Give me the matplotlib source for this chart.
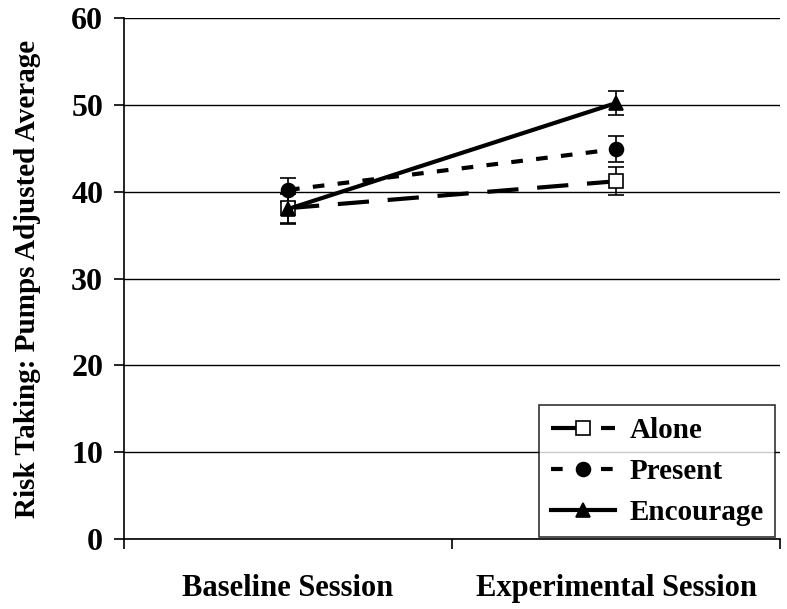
import matplotlib.pyplot as plt

sessions = ["Baseline Session", "Experimental Session"]
groups = ["Alone", "Present", "Encourage"]
alone = [38.1, 41.2]
present = [40.2, 44.9]
encourage = [38.0, 50.2]
alone_err = [1.7, 1.6]
present_err = [1.4, 1.5]
encourage_err = [1.7, 1.4]

plt.rcParams["font.family"] = "Liberation Serif"
plt.rcParams["font.weight"] = "bold"

fig = plt.figure(figsize=(7.87, 6.09), dpi=100)
ax = fig.add_axes([124 / 787, 70 / 609, 656 / 787, 521 / 609])

x = [1, 2]
styles = [
    (alone, alone_err, "s", "white", (0, (7.5, 4.5)), "Alone"),
    (present, present_err, "o", "black", (0, (2.8, 3.2)), "Present"),
    (encourage, encourage_err, "^", "black", "-", "Encourage"),
]
handles = []
for vals, err, mk, fc, ls, lab in styles:
    ax.errorbar(x, vals, yerr=err, color="black", fmt="none",
                elinewidth=1.2, capsize=6, capthick=1.2, zorder=3)
    h, = ax.plot(x, vals, color="black", marker=mk, markersize=10,
                 markerfacecolor=fc, markeredgecolor="black", markeredgewidth=1.2,
                 linestyle=ls, linewidth=3, label=lab, zorder=4)
    handles.append(h)

ax.set_xlim(0.5, 2.5)
ax.set_ylim(0, 60)
ax.set_yticks(range(0, 61, 10))
ax.yaxis.grid(True, color="black", linewidth=1)
ax.set_axisbelow(True)
ax.set_xticks([0.5, 1.5, 2.5])
ax.set_xticklabels([])
ax.set_xticks(x, minor=True)
ax.set_xticklabels(sessions, minor=True)
ax.tick_params(axis="x", which="minor", length=0, pad=25, labelsize=22)
ax.tick_params(axis="x", which="major", direction="out", length=7, width=1.2)
ax.tick_params(axis="y", direction="out", length=7, width=1.2, pad=8, labelsize=23)
for s in ["top", "right"]:
    ax.spines[s].set_visible(False)
ax.spines["left"].set_linewidth(1.2)
ax.spines["bottom"].set_linewidth(1.2)
ax.set_ylabel("Risk Taking: Pumps Adjusted Average", fontsize=21,
              fontweight="bold", labelpad=22)

leg = ax.legend(handles=handles, loc="lower right", bbox_to_anchor=(0.993, 0.003),
                fontsize=21, frameon=True, fancybox=False, edgecolor="black",
                handlelength=2.2, handletextpad=0.5, borderpad=0.4,
                labelspacing=0.48, borderaxespad=0.0, numpoints=1)
leg.get_frame().set_linewidth(1.2)

fig.savefig("out.png", dpi=100)
